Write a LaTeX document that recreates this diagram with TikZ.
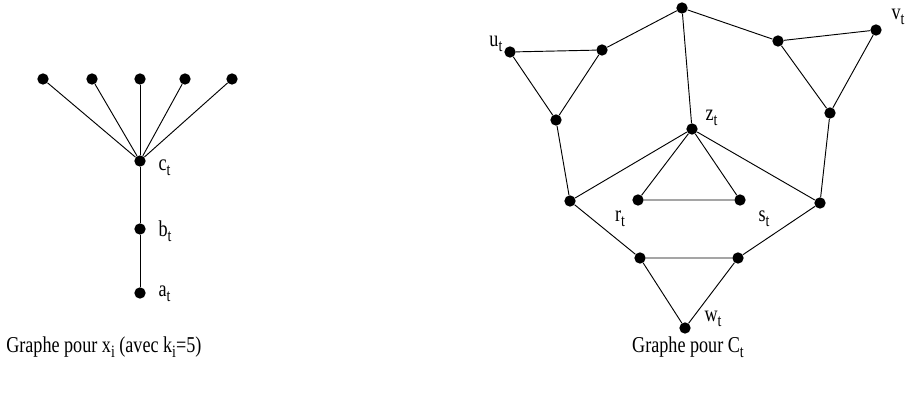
\documentclass[tikz,border=0pt]{standalone}
\usepackage{fontspec}
\setmainfont{Liberation Serif}
\newfontfamily\condfont[FakeStretch=0.8]{Liberation Serif}
\newcommand{\idx}[1]{\raisebox{-.45ex}{\fontsize{13}{13}\selectfont#1}}
\tikzset{dot/.style={circle,fill=black,inner sep=0pt,minimum size=8.5pt},
edge/.style={line width=.7pt},
lab/.style={font=\condfont\fontsize{17}{19}\selectfont,inner sep=1pt},
legend/.style={font=\condfont\fontsize{17}{19}\selectfont,inner sep=0pt}}

\begin{document}
\begin{tikzpicture}[x=.75pt,y=-.75pt]
\useasboundingbox (0,0) rectangle (917,402);
% graph for x_i
\node[dot] (c) at (140,161) {};
\node[dot] (b) at (140,229) {};
\node[dot] (a) at (140,293) {};
\foreach \x [count=\i] in {43,92,140,185,232}
 {\node[dot] (l\i) at (\x,79) {};
  \draw[edge] (l\i)--(c);}
\draw[edge] (c)--(b)--(a);
\node[lab,anchor=west] (cl) at (157,168) {c\idx{t}};
\node[lab,anchor=west] (bl) at (157,231) {b\idx{t}};
\node[lab,anchor=west] (al) at (157,294) {a\idx{t}};
% graph for C_t
\node[dot] (top) at (682,8) {};
\node[dot] (u) at (510,52) {};
\node[dot] (ul) at (602,50) {};
\node[dot] (ud) at (556,120) {};
\node[dot] (lo) at (570,201) {};
\node[dot] (vl) at (778,41) {};
\node[dot] (v) at (876,30) {};
\node[dot] (vd) at (830,113) {};
\node[dot] (ro) at (820,203) {};
\node[dot] (z) at (692,129) {};
\node[dot] (r) at (638,200) {};
\node[dot] (s) at (740,200) {};
\node[dot] (wl) at (640,258) {};
\node[dot] (wr) at (738,258) {};
\node[dot] (w) at (685,328) {};
\draw[edge] (top)--(ul)--(u)--(ud)--(ul);
\draw[edge] (top)--(vl)--(v)--(vd)--(vl);
\draw[edge] (ud)--(lo)--(z)--(ro)--(vd);
\draw[edge] (top)--(z);
\draw[edge] (r)--(z)--(s)--(r);
\draw[edge] (lo)--(wl)--(wr)--(ro);
\draw[edge] (wl)--(w)--(wr);
\node[lab,anchor=east] (ulab) at (504,44) {u\idx{t}};
\node[lab,anchor=west] (vlab) at (890,17) {v\idx{t}};
\node[lab,anchor=west] (zlab) at (704,118) {z\idx{t}};
\node[lab] (rlab) at (620,219) {r\idx{t}};
\node[lab] (slab) at (764,219) {s\idx{t}};
\node[lab,anchor=west] (wlab) at (703,319) {w\idx{t}};
% captions
\node[legend,anchor=west] (capx) at (6,347) {Graphe pour x\idx{i} (avec k\idx{i}=5)};
\node[legend] (capc) at (688,347) {Graphe pour C\idx{t}};
\end{tikzpicture}
\end{document}
